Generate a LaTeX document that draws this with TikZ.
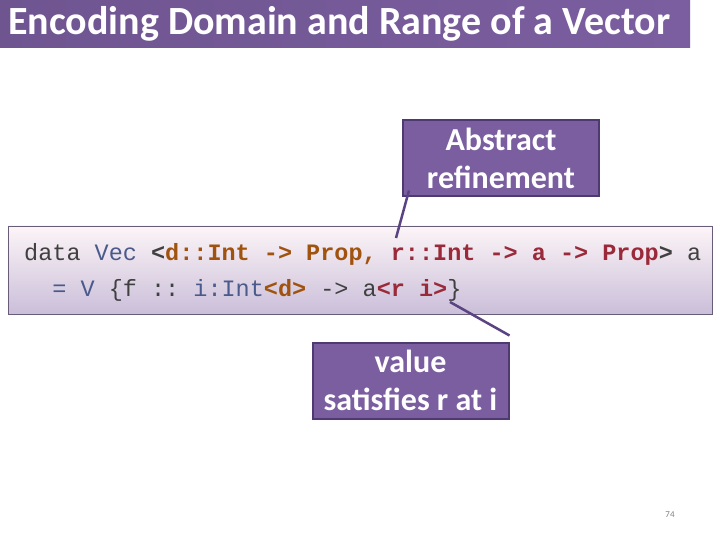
\documentclass[tikz,border=0pt]{standalone}
\usepackage{fontspec}
\setmainfont{Carlito}
\setmonofont{Liberation Mono}
\begin{document}
\begin{tikzpicture}[x=1pt,y=-1pt,
  callout/.style={draw=boxd, line width=2pt, fill=boxp, text=white, font=\bfseries\fontsize{32}{38}\selectfont, align=center, minimum width=196pt, minimum height=76pt, inner sep=0pt},
  link/.style={draw=linkc, line width=2.5pt}]
\definecolor{boxp}{HTML}{7B5EA0}
\definecolor{boxd}{HTML}{4E3A70}
\definecolor{linkc}{HTML}{5A4383}
\definecolor{kw}{HTML}{404040}
\definecolor{ty}{HTML}{4A5A8C}
\definecolor{br}{HTML}{A0520F}
\definecolor{rd}{HTML}{9A2A3A}
\useasboundingbox (0,0) rectangle (720,540);
\fill[white] (0,0) rectangle (720,540);
\shade[left color=boxp!90!black, right color=boxp] (0,0) rectangle (690,48);
\node[anchor=west, text=white, font=\bfseries\fontsize{40}{46}\selectfont, inner sep=0pt] (title) at (8,24) {Encoding Domain and Range of a Vector};
\shade[top color=purple!4!white, bottom color=boxp!40!white, draw=boxd!50!gray] (8,226) rectangle (712,314);
\node[anchor=west, font=\ttfamily\fontsize{23.5}{36}\selectfont, align=left, inner sep=0pt] (code) at (24,272) {%
\textcolor{kw}{data} \textcolor{ty}{Vec} \textbf{\textcolor{kw}{<}\textcolor{br}{d::Int -> Prop,} \textcolor{rd}{r::Int -> a -> Prop}\textcolor{kw}{>}} \textcolor{kw}{a}\\
\ \ \textcolor{ty}{= V} \textcolor{kw}{\{f :: }\textcolor{ty}{i:Int}\textbf{\textcolor{br}{<d>}} \textcolor{kw}{-> a}\textbf{\textcolor{rd}{<r i>}}\textcolor{kw}{\}}};
\node[callout] (abs) at (501,158.5) {Abstract\\refinement};
\node[callout] (val) at (410.5,380.5) {value\\satisfies r at i};
\coordinate (p1) at (396,238);
\coordinate (p2) at (450,302);
\draw[link] (abs.south west)++(7,-7) coordinate (a1) -- (p1);
\draw[link] (val.north east) ++(0,-6) coordinate (v1) -- (p2);
\node[font=\fontsize{9}{10}\selectfont, text=gray] (pg) at (670,515) {74};
\end{tikzpicture}
\end{document}
